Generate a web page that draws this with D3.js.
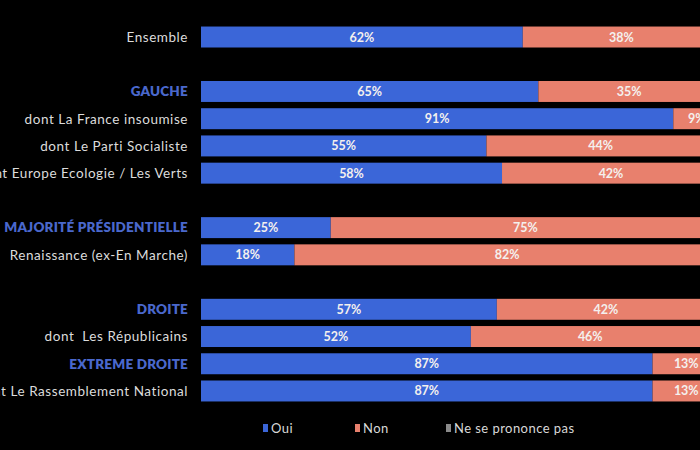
<!DOCTYPE html>
<html><head><meta charset="utf-8">
<script src="https://cdn.jsdelivr.net/npm/d3@7"></script>
<style>
html,body{margin:0;padding:0;background:#000;}
svg{display:block;}
</style></head>
<body><svg id="c" width="700" height="450"></svg>
<script>
const categories = ["Ensemble", null, "GAUCHE", "dont La France insoumise", "dont Le Parti Socialiste", "dont Europe Ecologie / Les Verts", null, "MAJORITÉ PRÉSIDENTIELLE", "Renaissance (ex-En Marche)", null, "DROITE", "dont  Les Républicains", "EXTREME DROITE", "dont Le Rassemblement National"];
const groupHeaders = ["GAUCHE", "MAJORITÉ PRÉSIDENTIELLE", "DROITE", "EXTREME DROITE"];
const oui = [62, null, 65, 91, 55, 58, null, 25, 18, null, 57, 52, 87, 87];
const non = [38, null, 35, 9, 44, 42, null, 75, 82, null, 42, 46, 13, 13];
const nsp = [0, null, 0, 0, 1, 0, null, 0, 0, null, 1, 2, 0, 0];
const seriesNames = ["Oui", "Non", "Ne se prononce pas"];
const colors = ["#3b66d8", "#e8806d", "#8a8a8a"];

const svg = d3.select("#c");
const x = d3.scaleLinear().domain([0, 100]).range([201, 720]);
const y = d3.scaleBand().domain(categories.map((c, i) => i)).range([23.4, 404.6]).paddingInner(0.23).paddingOuter(0.115);

const rows = categories.map((c, i) => ({c, i, vals: [oui[i], non[i], nsp[i]]})).filter(r => r.c !== null);

const font = "Lato, 'Open Sans', sans-serif";

rows.forEach(r => {
  let acc = 0;
  r.vals.forEach((v, k) => {
    if (!v) return;
    const x0 = x(acc), x1 = x(acc + v);
    svg.append("rect").attr("x", x0).attr("y", y(r.i)).attr("width", x1 - x0).attr("height", y.bandwidth()).attr("fill", colors[k]);
    if (k < 2) {
      svg.append("text").attr("x", (x0 + x1) / 2).attr("y", y(r.i) + y.bandwidth() / 2).attr("dy", "0.36em")
        .attr("text-anchor", "middle").attr("fill", "#f4f0ee").attr("font-family", font).attr("font-weight", 700)
        .attr("font-size", 12.5).text(v + "%");
    }
    acc += v;
  });
  const isG = groupHeaders.includes(r.c);
  svg.append("text").attr("x", 188).attr("y", y(r.i) + y.bandwidth() / 2).attr("dy", "0.36em")
    .attr("text-anchor", "end").attr("fill", isG ? "#4a68cc" : "#dcdcdc")
    .attr("font-family", font).attr("font-weight", isG ? 800 : 400).attr("font-size", 13.5)
    .attr("letter-spacing", isG ? 0.2 : 0.55)
    .style("white-space", "pre").text(r.c);
});

const legendX = [263, 355, 446];
seriesNames.forEach((s, k) => {
  const g = svg.append("g").attr("transform", `translate(${legendX[k]},428)`);
  g.append("rect").attr("x", 0).attr("y", -4).attr("width", 5).attr("height", 8).attr("fill", colors[k]);
  g.append("text").attr("x", 8).attr("y", 0).attr("dy", "0.36em").attr("fill", "#d8d8d8")
    .attr("font-family", font).attr("font-size", 13).attr("letter-spacing", 0.45).text(s);
});
</script></body></html>
